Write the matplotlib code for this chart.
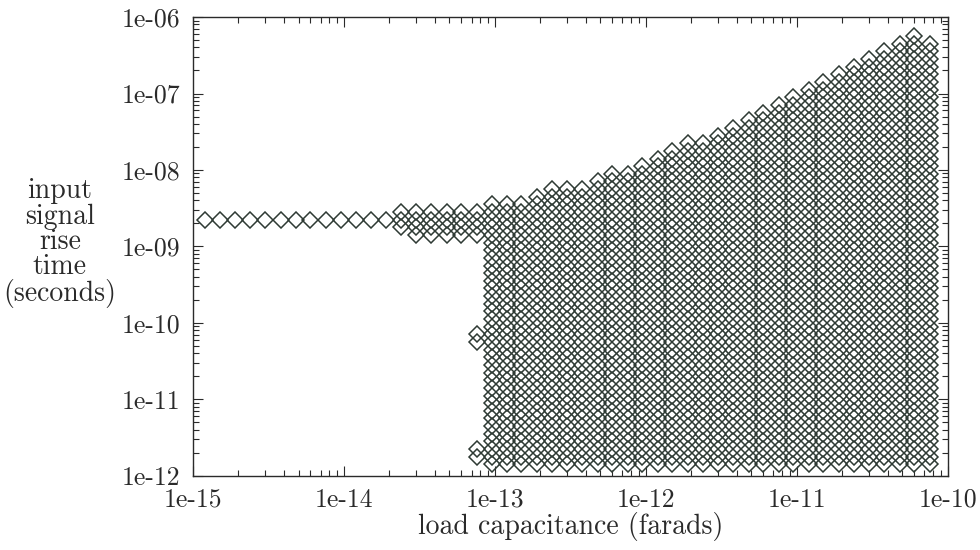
import numpy as np
import matplotlib
matplotlib.use("Agg")
import matplotlib.pyplot as plt
from matplotlib.ticker import LogLocator, NullFormatter

plt.rcParams['font.family'] = ['cmr10', 'DejaVu Serif']
plt.rcParams['axes.unicode_minus'] = False

# load capacitance sample columns (farads)
cap = [1.2e-15, 1.5e-15, 1.9e-15, 2.4e-15, 3.0e-15, 3.8e-15, 4.8e-15, 6.0e-15, 7.6e-15, 9.5e-15,
       1.2e-14, 1.5e-14, 1.9e-14, 2.4e-14, 3.0e-14, 3.8e-14, 4.8e-14, 6.0e-14, 7.6e-14, 9.5e-14,
       1.2e-13, 1.5e-13, 1.9e-13, 2.4e-13, 3.0e-13, 3.8e-13, 4.8e-13, 6.0e-13, 7.6e-13, 9.5e-13,
       1.2e-12, 1.5e-12, 1.9e-12, 2.4e-12, 3.0e-12, 3.8e-12, 4.8e-12, 6.0e-12, 7.6e-12, 9.5e-12,
       1.2e-11, 1.5e-11, 1.9e-11, 2.4e-11, 3.0e-11, 3.8e-11, 4.8e-11, 6.0e-11, 7.6e-11]

# input rise time sample rows (seconds)
rise = [1.41e-12, 1.78e-12, 2.24e-12, 2.82e-12, 3.55e-12, 4.47e-12, 5.62e-12, 7.08e-12, 8.91e-12,
        1.12e-11, 1.41e-11, 1.78e-11, 2.24e-11, 2.82e-11, 3.55e-11, 4.47e-11, 5.62e-11, 7.08e-11, 8.91e-11,
        1.12e-10, 1.41e-10, 1.78e-10, 2.24e-10, 2.82e-10, 3.55e-10, 4.47e-10, 5.62e-10, 7.08e-10, 8.91e-10,
        1.12e-9, 1.41e-9, 1.78e-9, 2.24e-9, 2.82e-9, 3.55e-9, 4.47e-9, 5.62e-9, 7.08e-9, 8.91e-9,
        1.12e-8, 1.41e-8, 1.78e-8, 2.24e-8, 2.82e-8, 3.55e-8, 4.47e-8, 5.62e-8, 7.08e-8, 8.91e-8,
        1.12e-7, 1.41e-7, 1.78e-7, 2.24e-7, 2.82e-7, 3.55e-7, 4.47e-7, 5.62e-7]

# lowest / highest valid rise time in each capacitance column
col_low = [2.24e-9, 2.24e-9, 2.24e-9, 2.24e-9, 2.24e-9, 2.24e-9, 2.24e-9, 2.24e-9, 2.24e-9, 2.24e-9,
           2.24e-9, 2.24e-9, 2.24e-9, 1.78e-9, 1.41e-9, 1.41e-9, 1.41e-9, 1.41e-9, 1.41e-9, 1.41e-12,
           1.41e-12, 1.41e-12, 1.41e-12, 1.41e-12, 1.41e-12, 1.41e-12, 1.41e-12, 1.41e-12, 1.41e-12, 1.41e-12,
           1.41e-12, 1.41e-12, 1.41e-12, 1.41e-12, 1.41e-12, 1.41e-12, 1.41e-12, 1.41e-12, 1.41e-12, 1.41e-12,
           1.41e-12, 1.41e-12, 1.41e-12, 1.41e-12, 1.41e-12, 1.41e-12, 1.41e-12, 1.41e-12, 1.41e-12]
col_high = [2.24e-9, 2.24e-9, 2.24e-9, 2.24e-9, 2.24e-9, 2.24e-9, 2.24e-9, 2.24e-9, 2.24e-9, 2.24e-9,
            2.24e-9, 2.24e-9, 2.24e-9, 2.82e-9, 2.82e-9, 2.82e-9, 2.82e-9, 2.82e-9, 2.82e-9, 3.55e-9,
            3.55e-9, 3.55e-9, 4.47e-9, 5.62e-9, 5.62e-9, 5.62e-9, 7.08e-9, 8.91e-9, 8.91e-9, 1.12e-8,
            1.41e-8, 1.78e-8, 2.24e-8, 2.24e-8, 2.82e-8, 3.55e-8, 4.47e-8, 5.62e-8, 7.08e-8, 8.91e-8,
            1.12e-7, 1.41e-7, 1.78e-7, 2.24e-7, 2.82e-7, 3.55e-7, 4.47e-7, 5.62e-7, 4.47e-7]

# stray points just left of the knee
stray_cap = [7.6e-14, 7.6e-14, 7.6e-14, 7.6e-14]
stray_rise = [1.78e-12, 2.24e-12, 5.62e-11, 7.08e-11]

xs, ys = [], []
lr = np.log10(rise)
for c, lo, hi in zip(cap, col_low, col_high):
    m = (lr >= np.log10(lo) - 0.01) & (lr <= np.log10(hi) + 0.01)
    for r in np.array(rise)[m]:
        xs.append(c)
        ys.append(r)
xs += stray_cap
ys += stray_rise

fig = plt.figure(figsize=(9.8, 5.5), dpi=100)
ax = fig.add_axes([0.197, 0.135, 0.77, 0.834])
ink = '#2e3a34'
txt = '#2a2a2a'
ax.plot(xs, ys, linestyle='none', marker='D', markersize=8.3, markerfacecolor='none',
        markeredgecolor=ink, markeredgewidth=1.1)

ax.set_xscale('log')
ax.set_yscale('log')
ax.set_xlim(1e-15, 1e-10)
ax.set_ylim(1e-12, 1e-6)

xt = [1e-15, 1e-14, 1e-13, 1e-12, 1e-11, 1e-10]
yt = [1e-12, 1e-11, 1e-10, 1e-9, 1e-8, 1e-7, 1e-6]
ax.set_xticks(xt, ['1e-15', '1e-14', '1e-13', '1e-12', '1e-11', '1e-10'])
ax.set_yticks(yt, ['1e-12', '1e-11', '1e-10', '1e-09', '1e-08', '1e-07', '1e-06'])
ax.xaxis.set_minor_locator(LogLocator(base=10, subs=np.arange(2, 10), numticks=20))
ax.yaxis.set_minor_locator(LogLocator(base=10, subs=np.arange(2, 10), numticks=20))
ax.xaxis.set_minor_formatter(NullFormatter())
ax.yaxis.set_minor_formatter(NullFormatter())
ax.tick_params(which='both', direction='in', top=True, right=True, colors=txt,
               labelsize=18.5)
ax.tick_params(axis='x', which='both', pad=9)
ax.tick_params(axis='y', which='both', pad=9)
ax.tick_params(which='major', length=7, width=0.8)
ax.tick_params(which='minor', length=4, width=0.8)
for s in ax.spines.values():
    s.set_color(txt)
    s.set_linewidth(1.0)

ax.set_xlabel('load capacitance (farads)', fontsize=20, color=txt, labelpad=0)
fig.text(0.061, 0.558, 'input\nsignal\nrise\ntime\n(seconds)', ha='center', va='center',
         fontsize=20, color=txt, linespacing=0.95)

fig.savefig('out.png', dpi=100)
